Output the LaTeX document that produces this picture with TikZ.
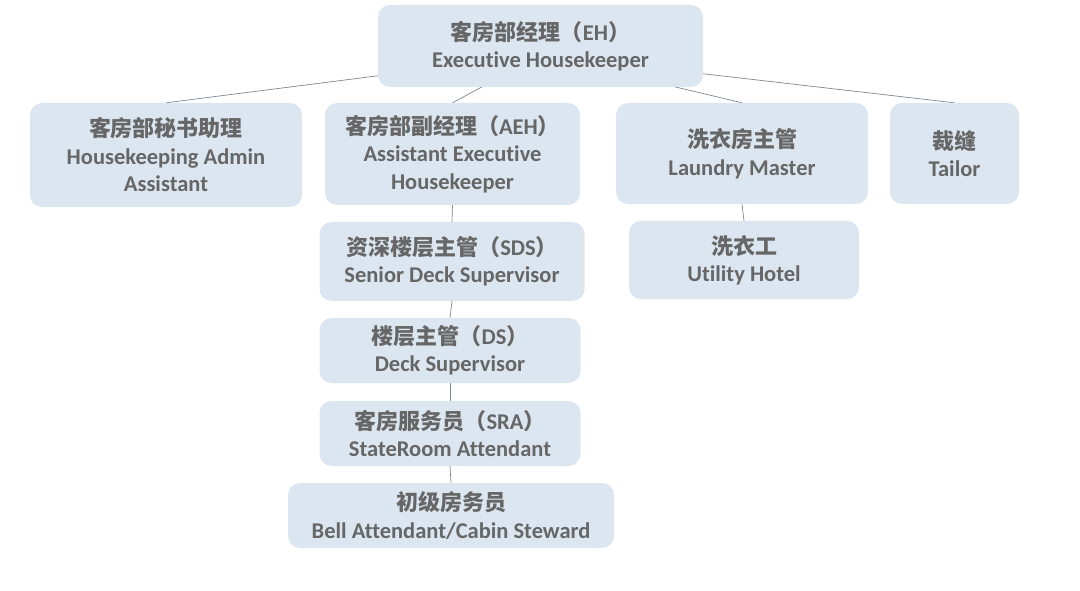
\documentclass[tikz,border=0pt]{standalone}
\usepackage{fontspec}
\setmainfont{Carlito}[Ligatures=NoCommon]
\newfontfamily\cjk{Noto Sans CJK SC}
\usetikzlibrary{backgrounds}
\definecolor{boxfill}{HTML}{DCE6F1}
\definecolor{txtgray}{HTML}{666666}
\definecolor{linegray}{HTML}{7D8890}
\newcommand{\zh}[1]{{\cjk\fontsize{22}{28}\selectfont #1}}
\tikzset{
  orgbox/.style={fill=boxfill, rounded corners=12pt, align=center, inner sep=0pt,
    text=txtgray, font=\bfseries\fontsize{22.5}{27.5}\selectfont},
  link/.style={draw=linegray, line width=0.7pt}
}
\begin{document}
\begin{tikzpicture}[x=1pt,y=-1pt]
\useasboundingbox (0,0) rectangle (1080,591);
\node[orgbox, minimum width=325pt, minimum height=82pt] (eh) at (540.5,46) {\zh{客房部经理（}EH\zh{）}\\Executive Housekeeper};
\node[orgbox, minimum width=272pt, minimum height=104pt] (admin) at (166,155) {\zh{客房部秘书助理}\\Housekeeping Admin\\Assistant};
\node[orgbox, minimum width=255pt, minimum height=102pt] (aeh) at (452.5,154) {\zh{客房部副经理（}AEH\zh{）}\\Assistant Executive\\Housekeeper};
\node[orgbox, minimum width=252pt, minimum height=101pt] (laundry) at (742,153.5) {\zh{洗衣房主管}\\Laundry Master};
\node[orgbox, minimum width=129pt, minimum height=101pt] (tailor) at (954.5,153.5) {\zh{裁缝}\\Tailor};
\node[orgbox, minimum width=230pt, minimum height=78pt] (utility) at (744,260) {\zh{洗衣工}\\Utility Hotel};
\node[orgbox, minimum width=265pt, minimum height=79pt] (sds) at (452,261.5) {\zh{资深楼层主管（}SDS\zh{）}\\Senior Deck Supervisor};
\node[orgbox, minimum width=261pt, minimum height=65pt] (ds) at (450,350.5) {\zh{楼层主管（}DS\zh{）}\\Deck Supervisor};
\node[orgbox, minimum width=261pt, minimum height=65pt] (sra) at (450,433.5) {\zh{客房服务员（}SRA\zh{）}\\StateRoom Attendant};
\node[orgbox, minimum width=326pt, minimum height=65pt] (bell) at (451,515.5) {\zh{初级房务员}\\Bell Attendant/Cabin Steward};
\coordinate (hub) at (541,55);
\begin{scope}[on background layer]
\draw[link] (hub) -- (admin.north);
\draw[link] (hub) -- (aeh.north);
\draw[link] (hub) -- (laundry.north);
\draw[link] (hub) -- (tailor.north);
\end{scope}
\draw[link] (aeh.south) -- (sds.north);
\draw[link] (sds.south) -- (ds.north);
\draw[link] (ds.south) -- (sra.north);
\draw[link] (sra.south) -- (bell.north);
\draw[link] (laundry.south) -- (utility.north);
\end{tikzpicture}
\end{document}
